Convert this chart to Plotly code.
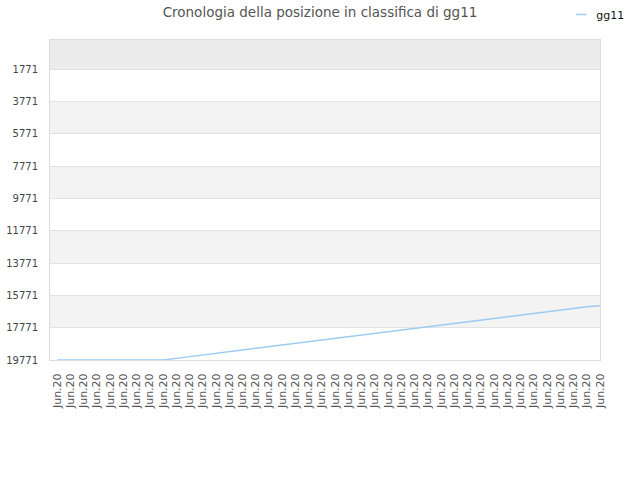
import plotly.graph_objects as go

title_text = "Cronologia della posizione in classifica di gg11"
series_name = "gg11"
x_labels = ["Jun.20"] * 42
ranks = [19771, 19771, 19771, 19771, 19771, 19771, 19771, 19771, 19771,
         19670, 19567, 19464, 19361, 19258, 19155, 19052, 18949, 18846,
         18743, 18640, 18537, 18434, 18331, 18228, 18125, 18022, 17919,
         17816, 17713, 17610, 17507, 17404, 17301, 17198, 17095, 16992,
         16889, 16786, 16683, 16580, 16477, 16412]
y_ticks = [1771, 3771, 5771, 7771, 9771, 11771, 13771, 15771, 17771, 19771]
y_tick_labels = ["1771", "3771", "5771", "7771", "9771", "11771", "13771", "15771", "17771", "19771"]
y_top = -23
y_bottom = 19771

x_idx = list(range(len(x_labels)))

fig = go.Figure()
fig.add_trace(go.Scatter(
    x=x_idx, y=ranks, mode="lines", name=series_name,
    line=dict(color="#9ccaf2", width=1.5),
))

# alternating bands
band_edges = [y_top] + y_ticks
for i in range(len(band_edges) - 1):
    y0, y1 = band_edges[i], band_edges[i + 1]
    if i == 0:
        col = "#ececec"
    elif i % 2 == 1:
        continue
    else:
        col = "#f3f3f3"
    fig.add_shape(type="rect", xref="paper", yref="y", x0=0, x1=1, y0=y0, y1=y1,
                  fillcolor=col, line_width=0, layer="below")

fig.update_layout(
    width=640, height=480,
    paper_bgcolor="white", plot_bgcolor="white",
    margin=dict(l=50, r=40, t=40, b=120, autoexpand=False),
    font=dict(family="DejaVu Sans", size=11, color="#444"),
    title=dict(text=title_text, x=0.5, xanchor="center", y=0.975, yanchor="middle",
               font=dict(family="DejaVu Sans", size=13.5, color="#555")),
    showlegend=True,
    legend=dict(orientation="h", x=0.9205, xanchor="left", y=1.0, yanchor="top",
                yref="container", xref="paper",
                font=dict(family="DejaVu Sans", size=11, color="#111"),
                itemwidth=30, bgcolor="rgba(0,0,0,0)"),
)
fig.update_xaxes(
    range=[-0.53, len(x_labels) - 1], tickmode="array", tickvals=x_idx, ticktext=x_labels,
    tickangle=-90, showgrid=False, zeroline=False, showline=True, linecolor="#dcdcdc",
    mirror=True, ticks="", ticklabelstandoff=8, tickfont=dict(size=11, color="#555"),
)
fig.update_yaxes(
    range=[y_bottom, y_top], tickmode="array", tickvals=y_ticks, ticktext=y_tick_labels,
    showgrid=True, gridcolor="#e2e2e2", zeroline=False, showline=True, linecolor="#dcdcdc",
    mirror=True, ticks="", ticklabelstandoff=9, tickfont=dict(size=10, color="#444"),
)
fig.write_html(
    "out.html", config={"displayModeBar": False},
    post_script=("document.body.style.margin='0px';"
                 "document.querySelectorAll('.legendlines path').forEach("
                 "function(p){p.setAttribute('d','M20,0h10');});"),
)
